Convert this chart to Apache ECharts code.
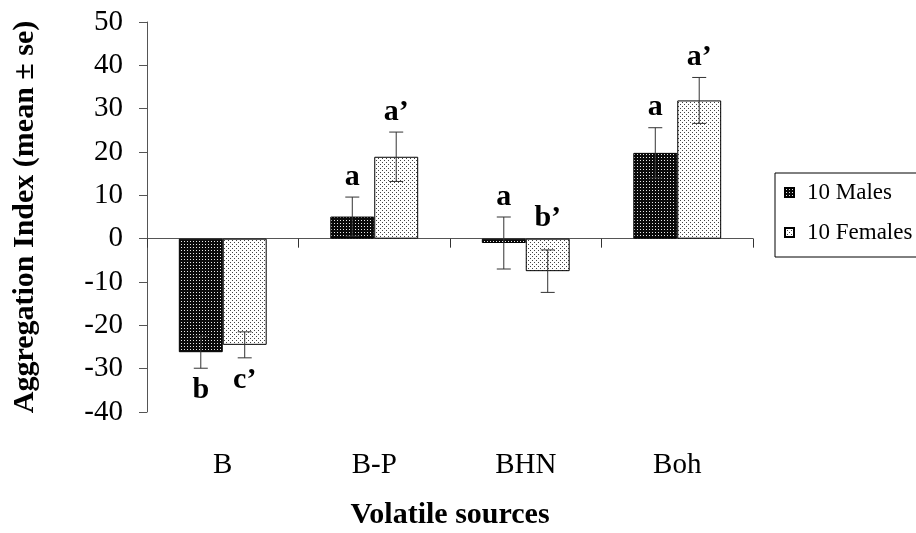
<!DOCTYPE html>
<html>
<head>
<meta charset="utf-8">
<script src="https://cdn.jsdelivr.net/npm/echarts@6/dist/echarts.min.js"></script>
<style>
  html, body { margin: 0; padding: 0; background: #fff; }
  #chart { width: 916px; height: 533px; }
</style>
</head>
<body>
<div id="chart"></div>
<script>
// Aggregation index per volatile source, mean and standard error
const categories = ['B', 'B-P', 'BHN', 'Boh'];
const seriesNames = ['10 Males', '10 Females'];
const malesMean = [-26.2, 5.1, -1.0, 19.8];
const malesSE = [3.7, 4.5, 6.0, 5.8];
const femalesMean = [-24.5, 18.9, -7.5, 31.9];
const femalesSE = [3.0, 5.7, 4.9, 5.3];
const malesLetters = ['b', 'a', 'a', 'a'];
const femalesLetters = ['c\u2019', 'a\u2019', 'b\u2019', 'a\u2019'];
const yTicks = [-40, -30, -20, -10, 0, 10, 20, 30, 40, 50];

const SERIF = '"Liberation Serif", "Times New Roman", serif';
const BAR_WIDTH = 0.29;

// Dotted fills: dark fill with light dots, light fill with dark dots
function makePattern(bg, dot, size, dots) {
  const c = document.createElement('canvas');
  c.width = size; c.height = size;
  const ctx = c.getContext('2d');
  ctx.fillStyle = bg;
  ctx.fillRect(0, 0, size, size);
  ctx.fillStyle = dot;
  dots.forEach(function (p) { ctx.fillRect(p[0], p[1], 1, 1); });
  return { image: c, repeat: 'repeat' };
}
const malePattern = makePattern('#0a0a0a', '#e8e8e8', 3, [[1, 1]]);
const femalePattern = makePattern('#ffffff', '#444444', 4, [[0, 0], [2, 2]]);

// Significance letters go below a group only when the whole group lies below zero
const groupBelow = categories.map(function (_, i) {
  return malesMean[i] + malesSE[i] < 0 && femalesMean[i] + femalesSE[i] < 0;
});

function errorData(means, ses, letters) {
  return means.map(function (m, i) { return [i, m, ses[i], letters[i]]; });
}

function errorRenderer(side) {
  return function (params, api) {
    const idx = api.value(0);
    const mean = api.value(1);
    const se = api.value(2);
    const letter = api.value(3);
    const band = api.size([1, 0])[0];
    const x = api.coord([idx, mean])[0] + side * band * BAR_WIDTH / 2;
    const yHi = api.coord([idx, mean + se])[1];
    const yLo = api.coord([idx, mean - se])[1];
    const cap = 7;
    const stroke = { stroke: '#333', lineWidth: 1 };
    let ty;
    if (groupBelow[idx]) {
      ty = yLo + 22;
    } else {
      ty = Math.min(yHi, api.coord([idx, 0])[1]) - 20;
    }
    return {
      type: 'group',
      children: [
        { type: 'line', shape: { x1: x, y1: yHi, x2: x, y2: yLo }, style: stroke },
        { type: 'line', shape: { x1: x - cap, y1: yHi, x2: x + cap, y2: yHi }, style: stroke },
        { type: 'line', shape: { x1: x - cap, y1: yLo, x2: x + cap, y2: yLo }, style: stroke },
        {
          type: 'text',
          style: {
            x: x, y: ty, text: letter,
            font: 'bold 30px ' + SERIF,
            fill: '#000', align: 'center', verticalAlign: 'middle'
          }
        }
      ]
    };
  };
}

const chart = echarts.init(document.getElementById('chart'), null, { renderer: 'canvas' });

chart.setOption({
  animation: false,
  backgroundColor: '#fff',
  grid: { left: 147, top: 22, width: 606, height: 390, outerBoundsMode: 'none', containLabel: false },
  legend: {
    data: seriesNames,
    orient: 'vertical',
    left: 775,
    top: 173,
    padding: [8, 20, 13, 9],
    itemGap: 17,
    itemWidth: 9,
    itemHeight: 9,
    icon: 'rect',
    selectedMode: false,
    borderColor: '#000',
    borderWidth: 1,
    textStyle: { fontFamily: SERIF, fontSize: 23, color: '#000', padding: [0, 0, 0, 8], lineHeight: 18 }
  },
  xAxis: [
    {
      type: 'category',
      data: categories,
      position: 'bottom',
      axisLine: { show: false, onZero: false },
      axisTick: { show: false },
      axisLabel: { fontFamily: SERIF, fontSize: 29, color: '#000', margin: 39 },
      name: 'Volatile sources',
      nameLocation: 'middle',
      nameGap: 88,
      nameTextStyle: { fontFamily: SERIF, fontSize: 30, fontWeight: 'bold', color: '#000' }
    },
    {
      type: 'category',
      data: categories,
      position: 'bottom',
      axisLine: { show: true, onZero: true, lineStyle: { color: '#555', width: 1 } },
      axisTick: { show: true, inside: false, length: 9, lineStyle: { color: '#333' } },
      axisLabel: { show: false }
    }
  ],
  yAxis: {
    type: 'value',
    min: -40,
    max: 50,
    interval: 10,
    axisLine: { show: true, onZero: false, lineStyle: { color: '#555', width: 1 } },
    axisTick: { show: true, length: 8, lineStyle: { color: '#555' } },
    splitLine: { show: false },
    axisLabel: {
      fontFamily: SERIF, fontSize: 29, color: '#000', margin: 24,
      formatter: function (v) { return yTicks.indexOf(v) >= 0 ? String(v) : ''; }
    },
    name: 'Aggregation Index (mean \u00b1 se)',
    nameLocation: 'middle',
    nameGap: 107,
    nameRotate: 90,
    nameTextStyle: { fontFamily: SERIF, fontSize: 30, fontWeight: 'bold', color: '#000' }
  },
  series: [
    {
      name: seriesNames[0],
      type: 'bar',
      xAxisIndex: 0,
      data: malesMean,
      barWidth: (BAR_WIDTH * 100) + '%',
      barGap: '0%',
      itemStyle: { color: malePattern, borderColor: '#000', borderWidth: 1 },
      z: 2
    },
    {
      name: seriesNames[1],
      type: 'bar',
      xAxisIndex: 0,
      data: femalesMean,
      barWidth: (BAR_WIDTH * 100) + '%',
      barGap: '0%',
      itemStyle: { color: femalePattern, borderColor: '#000', borderWidth: 1 },
      z: 2
    },
    {
      type: 'custom',
      xAxisIndex: 0,
      data: errorData(malesMean, malesSE, malesLetters),
      renderItem: errorRenderer(-1),
      z: 5
    },
    {
      type: 'custom',
      xAxisIndex: 0,
      data: errorData(femalesMean, femalesSE, femalesLetters),
      renderItem: errorRenderer(1),
      z: 5
    }
  ]
});
</script>
</body>
</html>
